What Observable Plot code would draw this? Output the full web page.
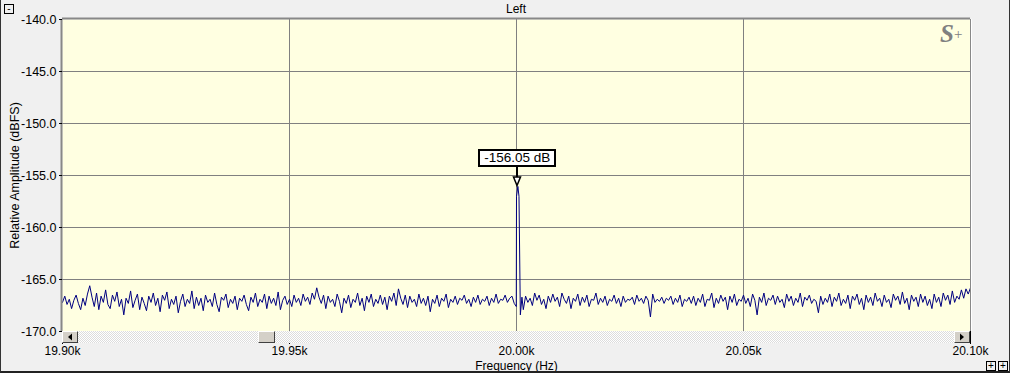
<!DOCTYPE html>
<html><head><meta charset="utf-8">
<script src="https://cdn.jsdelivr.net/npm/d3@7"></script>
<script src="https://cdn.jsdelivr.net/npm/@observablehq/plot@0.6"></script>
<style>
body{margin:0;background:#f0f0f0;}
#wrap{position:relative;width:1010px;height:373px;background:#f0f0f0;overflow:hidden;font-family:"Liberation Sans",Arial,sans-serif;}
#wrap svg{position:absolute;left:0;top:0;}
.abs{position:absolute;box-sizing:border-box;}
.btn{background:#d4d0c8;border-top:1px solid #fff;border-left:1px solid #fff;border-right:1px solid #404040;border-bottom:1px solid #404040;}
.sq{border:1px solid #000;background:#f0f0f0;font-size:10px;line-height:7px;text-align:center;color:#000;}
</style></head><body><div id="wrap"></div>
<script>
// ---- data ----
const freqStart = 19900, freqStep = 0.5; // Hz
const noiseDb = [
-167.2,-166.6,-167.4,-166.9,-167.8,-167.0,-166.5,-167.3,-167.9,-166.8,-167.5,-166.4,-165.6,-166.7,-167.6,-166.3,-167.9,-166.6,-167.2,-166.0,
-167.4,-167.8,-166.5,-167.1,-166.2,-167.6,-166.9,-168.4,-166.8,-167.3,-166.1,-167.7,-167.0,-166.4,-167.9,-166.7,-167.3,-168.0,-166.6,-167.2,
-166.3,-167.5,-166.8,-168.1,-166.5,-167.0,-166.2,-167.8,-166.9,-167.4,-166.6,-168.2,-167.1,-166.4,-167.6,-166.9,-167.3,-166.1,-167.8,-166.7,
-167.5,-166.8,-168.0,-166.5,-167.2,-166.9,-167.6,-166.3,-167.4,-168.1,-166.7,-167.0,-166.4,-167.7,-166.9,-167.3,-166.6,-167.9,-166.8,-167.1,
-166.5,-167.4,-168.0,-166.7,-167.2,-166.3,-167.6,-166.9,-167.2,-166.4,-167.8,-166.6,-167.3,-166.8,-167.5,-166.2,-167.9,-167.0,-166.6,-167.4,
-166.9,-167.6,-166.5,-167.2,-166.8,-167.5,-166.4,-167.1,-166.7,-167.4,-166.3,-166.9,-165.8,-166.7,-167.3,-166.5,-167.8,-166.6,-167.2,-166.9,
-167.6,-166.4,-167.1,-168.2,-166.8,-167.3,-166.5,-167.7,-166.9,-167.2,-166.3,-167.5,-166.8,-168.0,-166.6,-167.2,-166.4,-167.6,-166.9,-167.3,
-166.5,-167.4,-166.7,-167.9,-166.6,-167.1,-166.3,-167.5,-165.9,-166.8,-167.4,-166.5,-167.7,-166.6,-167.2,-166.9,-167.6,-166.4,-167.3,-166.8,
-167.5,-166.6,-168.1,-166.9,-167.3,-166.5,-167.6,-166.8,-167.1,-166.4,-167.7,-166.9,-167.2,-166.6,-167.4,-166.8,-167.0,-166.5,-167.3,-166.9,
-167.6,-166.7,-167.2,-166.5,-167.4,-166.9,-167.1,-166.6,-167.5,-166.8,-167.2,-166.4,-167.3,-166.9,-167.0,-166.5,-167.2,-166.8,-166.6,-167.3,
-167.0,-167.0,-167.0,-167.9,-166.6,-167.2,-166.8,-167.5,-166.3,-167.0,-166.5,-167.4,-166.9,-167.8,-166.6,-167.2,-166.4,-167.1,-166.7,-167.6,
-166.3,-166.9,-167.3,-166.6,-167.8,-166.8,-167.1,-166.4,-167.5,-166.7,-167.2,-166.5,-167.6,-166.9,-167.0,-166.3,-167.4,-166.8,-167.2,-166.6,
-167.5,-166.9,-167.1,-166.5,-167.3,-166.8,-167.6,-166.6,-167.2,-166.9,-167.0,-166.7,-167.4,-166.5,-167.1,-166.8,-167.3,-166.6,-167.0,-168.6,
-166.4,-167.2,-166.9,-167.1,-166.7,-167.3,-166.8,-167.0,-166.6,-167.4,-166.8,-167.2,-166.5,-167.6,-166.9,-167.1,-166.7,-167.3,-166.6,-167.5,
-166.8,-167.2,-166.4,-167.6,-166.9,-167.0,-166.3,-167.7,-166.8,-167.3,-166.5,-167.1,-166.7,-167.9,-166.6,-167.2,-166.4,-167.5,-166.9,-167.1,
-166.5,-167.3,-166.8,-167.6,-166.4,-167.0,-168.4,-166.7,-167.2,-166.3,-167.5,-166.8,-167.0,-166.5,-167.4,-166.6,-167.2,-166.9,-167.7,-166.4,
-167.1,-166.6,-167.5,-166.8,-167.2,-166.3,-167.6,-166.7,-167.0,-166.5,-167.3,-166.9,-167.1,-168.2,-166.6,-167.4,-166.8,-167.2,-166.4,-167.6,
-166.7,-167.1,-166.3,-167.5,-166.9,-167.3,-166.5,-167.8,-166.6,-167.0,-166.4,-167.4,-166.8,-167.9,-166.5,-167.2,-166.7,-167.5,-166.3,-167.1,
-166.8,-167.6,-166.5,-167.2,-166.9,-167.7,-166.4,-167.0,-166.6,-167.4,-166.2,-167.3,-166.8,-167.9,-166.5,-167.1,-166.7,-167.6,-166.4,-167.2,
-166.6,-167.5,-166.9,-167.8,-166.4,-167.2,-166.7,-167.6,-166.3,-167.0,-166.5,-167.4,-166.1,-167.2,-166.6,-166.9,-166.0,-166.8,-165.9,-166.4,
-165.8
];
const peakFreq = [19999.95, 20000.0, 20000.3, 20000.55, 20000.85, 20001.2];
const peakDb   = [-167.6, -157.0, -156.05, -157.0, -168.4, -166.7];
const xTicks = [19900, 19950, 20000, 20050, 20100];
const yTicks = [-170, -165, -160, -155, -150, -145, -140];
const markerFreq = 20000.3, markerDb = -156.05, markerText = "-156.05 dB";
const titleText = "Left";

// ---- build series ----
const series = [];
noiseDb.forEach((v, i) => {
  const f = freqStart + i * freqStep;
  if (f < peakFreq[0] || f > peakFreq[peakFreq.length - 1]) series.push({f, db: v});
});
peakFreq.forEach((f, i) => series.push({f, db: peakDb[i]}));
series.sort((a, b) => a.f - b.f);

const wrap = document.getElementById("wrap");
const chart = Plot.plot({
  width: 1010, height: 373,
  marginLeft: 62, marginRight: 40, marginTop: 19, marginBottom: 42,
  style: {background: "transparent", fontFamily: "Liberation Sans, Arial, sans-serif", fontSize: "12px", color: "#000", overflow: "visible"},
  x: {domain: [xTicks[0], xTicks[xTicks.length - 1]]},
  y: {domain: [yTicks[0], yTicks[yTicks.length - 1]]},
  marks: [
    Plot.frame({fill: "#ffffe1", stroke: null}),
    Plot.gridX(xTicks.slice(1, -1), {stroke: "#808080", strokeOpacity: 1}),
    Plot.gridY(yTicks.slice(1, -1), {stroke: "#808080", strokeOpacity: 1}),
    Plot.line(series, {x: "f", y: "db", stroke: "#000080", strokeWidth: 1}),
    Plot.ruleY([yTicks[yTicks.length - 1]], {stroke: "#888", strokeWidth: 2, dy: -1}),
    Plot.ruleX([xTicks[0]], {stroke: "#888", strokeWidth: 2, dx: -1}),
    Plot.ruleX([xTicks[xTicks.length - 1]], {stroke: "#888", strokeWidth: 1}),
    Plot.ruleX([xTicks[xTicks.length - 1]], {stroke: "#fff", strokeWidth: 1, dx: 1}),
    Plot.axisY(yTicks, {tickSize: 3, tickPadding: 3, tickFormat: d => d.toFixed(1), fontSize: 12.5,
      label: "Relative Amplitude (dBFS)", labelAnchor: "center", labelArrow: "none", labelOffset: 52}),
    Plot.axisX(xTicks, {tickSize: 13, tickPadding: 2, tickFormat: d => (d / 1000).toFixed(2) + "k",
      label: "Frequency (Hz)", labelAnchor: "center", labelArrow: "none", labelOffset: 38})
  ]
});
wrap.appendChild(chart);

const sx = chart.scale("x"), sy = chart.scale("y");
const x0 = sx.apply(xTicks[0]), x1 = sx.apply(xTicks[xTicks.length - 1]);
const yBottom = sy.apply(yTicks[0]), yTop = sy.apply(yTicks[yTicks.length - 1]);

function add(html) { wrap.insertAdjacentHTML("beforeend", html); }

// title
add(`<div class="abs" style="left:0;width:${(x0 + x1)}px;top:2px;text-align:center;font-size:12px;">${titleText}</div>`);
// scrollbar
const sbW = x1 - x0;
add(`<div class="abs" style="left:${x0}px;top:${yBottom}px;width:${sbW}px;height:12px;background-color:#fff;background-image:conic-gradient(#dcdcdc 25%, #fff 0 50%, #dcdcdc 0 75%, #fff 0);background-size:2px 2px;"></div>`);
add(`<div class="abs btn" style="left:${x0}px;top:${yBottom}px;width:16px;height:12px;"><svg width="14" height="10" style="position:absolute;left:0;top:0"><path d="M5 5 L9 1.5 L9 8.5 Z" fill="#000"/></svg></div>`);
add(`<div class="abs btn" style="left:${x1 - 16}px;top:${yBottom}px;width:16px;height:12px;"><svg width="14" height="10" style="position:absolute;left:0;top:0"><path d="M9 5 L5 1.5 L5 8.5 Z" fill="#000"/></svg></div>`);
add(`<div class="abs btn" style="left:${x0 + (sbW - 32) * 0.205 + 16}px;top:${yBottom}px;width:17px;height:12px;"></div>`);
// watermark
add(`<div class="abs" style="left:${x1 - 30}px;top:${yTop + 1}px;color:#808080;white-space:nowrap;"><span style="font-family:'Liberation Serif',serif;font-weight:bold;font-style:italic;font-size:25px;">S</span><span style="font-family:'Liberation Serif',serif;font-size:15px;position:relative;top:-3px;">+</span></div>`);
// marker annotation
const mx = sx.apply(markerFreq), my = sy.apply(markerDb);
add(`<div class="abs" style="left:${mx - 39}px;top:${my - 37}px;width:78px;height:18px;border:2px solid #000;background:#fff;font-size:13.5px;line-height:14px;text-align:center;white-space:nowrap;">${markerText}</div>`);
add(`<svg class="abs" style="left:${mx - 6}px;top:${my - 21}px;overflow:visible" width="12" height="22"><line x1="6" y1="0" x2="6" y2="12" stroke="#000" stroke-width="2"/><path d="M2.5 12 L9.5 12 L6 20.5 Z" fill="#fff" stroke="#000" stroke-width="1.5"/></svg>`);
// corner boxes
add(`<div class="abs sq" style="left:4px;top:4px;width:10px;height:10px;">-</div>`);
add(`<div class="abs sq" style="left:986px;top:361px;width:10px;height:10px;">+</div>`);
add(`<div class="abs sq" style="left:998px;top:361px;width:10px;height:10px;">+</div>`);
// outer border
add(`<div class="abs" style="left:0;top:0;width:1010px;height:373px;border-left:1px solid #333;border-right:1px solid #333;border-bottom:2px solid #222;pointer-events:none;"></div>`);
</script>
</body></html>
